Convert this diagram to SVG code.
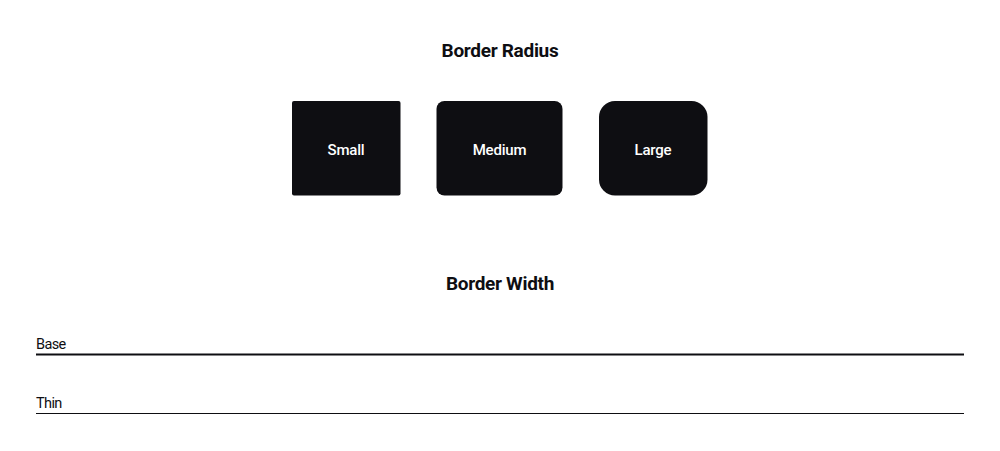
<svg xmlns="http://www.w3.org/2000/svg" width="1000" height="451" viewBox="0 0 1000 451">
<style>
.title{font-family:Roboto,"Liberation Sans",sans-serif;font-weight:700;font-size:19px;fill:#0e0e12;text-anchor:middle;letter-spacing:-0.3px}
.box{fill:#0e0e12}
.lbl{font-family:Roboto,"Liberation Sans",sans-serif;font-weight:500;font-size:15px;fill:#ffffff;text-anchor:middle;letter-spacing:-0.2px}
.sm{font-family:Roboto,"Liberation Sans",sans-serif;font-size:14.5px;fill:#0e0e12;letter-spacing:-0.6px}
</style>
<rect width="1000" height="451" fill="#ffffff"/>
<text class="title" x="500" y="57">Border Radius</text>
<g id="small"><rect class="box" x="292" y="101" width="108.5" height="94.5" rx="2"/><text class="lbl" x="346" y="155">Small</text></g>
<g id="medium"><rect class="box" x="436.5" y="101" width="126" height="94.5" rx="8"/><text class="lbl" x="499.5" y="155">Medium</text></g>
<g id="large"><rect class="box" x="599" y="101" width="108.5" height="94.5" rx="16"/><text class="lbl" x="653" y="155">Large</text></g>
<text class="title" x="500" y="290">Border Width</text>
<g id="base"><text class="sm" x="36" y="349">Base</text><line x1="36" y1="354.5" x2="964" y2="354.5" stroke="#0e0e12" stroke-width="2"/></g>
<g id="thin"><text class="sm" x="36" y="408">Thin</text><line x1="36" y1="413.5" x2="964" y2="413.5" stroke="#0e0e12" stroke-width="1"/></g>
</svg>
